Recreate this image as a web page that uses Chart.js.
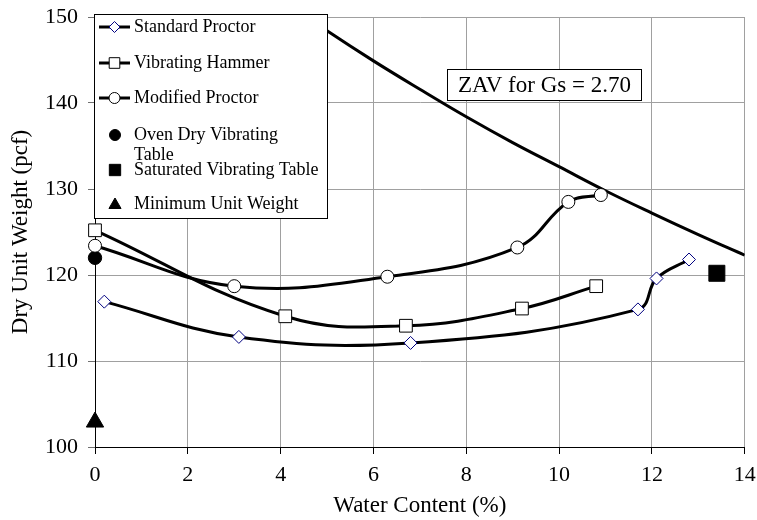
<!DOCTYPE html>
<html>
<head>
<meta charset="utf-8">
<script src="https://cdn.jsdelivr.net/npm/chart.js@4.4.0/dist/chart.umd.min.js"></script>
<style>
html,body{margin:0;padding:0;background:#fff;}
#wrap{width:757px;height:520px;position:relative;}
</style>
</head>
<body>
<div id="wrap"><canvas id="c" width="757" height="520"></canvas></div>
<script>
// ---- data ----
const stdX = [0.2, 3.1, 6.8, 11.7, 12.1, 12.8];
const stdY = [116.9, 112.8, 112.1, 116.0, 119.6, 121.8];
const vibX = [0, 4.1, 6.7, 9.2, 10.8];
const vibY = [125.2, 115.2, 114.1, 116.1, 118.7];
const modX = [0, 3.0, 6.3, 9.1, 10.2, 10.9];
const modY = [123.4, 118.7, 119.8, 123.2, 128.5, 129.3];
const ovenX = [0];
const ovenY = [122.0];
const satX = [13.4];
const satY = [120.2];
const minX = [0];
const minY = [102.9];
const zavX = [4, 5, 6, 7, 8, 9, 10, 11, 12, 13, 14];
const zavY = [152.1, 148.4, 144.9, 141.6, 138.4, 135.4, 132.6, 129.8, 127.2, 124.7, 122.3];
const xTicks = [0, 2, 4, 6, 8, 10, 12, 14];
const yTicks = [100, 110, 120, 130, 140, 150];
const seriesNames = ['Standard Proctor', 'Vibrating Hammer', 'Modified Proctor',
  'Oven Dry Vibrating Table', 'Saturated Vibrating Table', 'Minimum Unit Weight'];
const legendLines = [['Standard Proctor'], ['Vibrating Hammer'], ['Modified Proctor'],
  ['Oven Dry Vibrating', 'Table'], ['Saturated Vibrating Table'], ['Minimum Unit Weight']];
const zavLabel = 'ZAV for Gs = 2.70';
const xTitle = 'Water Content (%)';
const yTitle = 'Dry Unit Weight (pcf)';

const pts = (xs, ys) => xs.map((x, i) => ({x: x, y: ys[i]}));
const FONT = "'Liberation Serif','Times New Roman',serif";

const styles = [
  {pointStyle: 'rectRot', radius: 6.5, bg: '#fff', bc: '#000080', line: true},
  {pointStyle: 'rect', radius: 9, bg: '#fff', bc: '#000', line: true},
  {pointStyle: 'circle', radius: 6.5, bg: '#fff', bc: '#000', line: true},
  {pointStyle: 'circle', radius: 6.7, bg: '#000', bc: '#000', line: false},
  {pointStyle: 'rect', radius: 11.3, bg: '#000', bc: '#000', line: false},
  {pointStyle: 'triangle', radius: 10, bg: '#000', bc: '#000', line: false}
];
const dataPairs = [[stdX, stdY], [vibX, vibY], [modX, modY], [ovenX, ovenY], [satX, satY], [minX, minY]];

const datasets = dataPairs.map((p, i) => ({
  label: seriesNames[i],
  data: pts(p[0], p[1]),
  showLine: styles[i].line,
  borderColor: '#000',
  borderWidth: 3,
  tension: 0.4,
  pointStyle: styles[i].pointStyle,
  pointRadius: styles[i].radius,
  pointBackgroundColor: styles[i].bg,
  pointBorderColor: styles[i].bc,
  pointBorderWidth: 1,
  clip: false,
  order: 1
}));
datasets.push({
  label: 'ZAV',
  data: pts(zavX, zavY),
  showLine: true,
  borderColor: '#000',
  borderWidth: 3,
  tension: 0.4,
  pointRadius: 0,
  order: 2
});

function drawMarker(ctx, st, x, y) {
  ctx.save();
  ctx.fillStyle = st.bg;
  ctx.strokeStyle = st.bc;
  ctx.lineWidth = 1;
  ctx.beginPath();
  const r = st.radius;
  if (st.pointStyle === 'rectRot') {
    ctx.moveTo(x - r, y); ctx.lineTo(x, y - r); ctx.lineTo(x + r, y); ctx.lineTo(x, y + r); ctx.closePath();
  } else if (st.pointStyle === 'rect') {
    const s = r * Math.SQRT1_2;
    ctx.rect(x - s, y - s, 2 * s, 2 * s);
  } else if (st.pointStyle === 'circle') {
    ctx.arc(x, y, r, 0, Math.PI * 2);
  } else if (st.pointStyle === 'triangle') {
    ctx.moveTo(x, y - r);
    ctx.lineTo(x + r * Math.sin(2 * Math.PI / 3), y - r * Math.cos(2 * Math.PI / 3));
    ctx.lineTo(x + r * Math.sin(4 * Math.PI / 3), y - r * Math.cos(4 * Math.PI / 3));
    ctx.closePath();
  }
  ctx.fill();
  ctx.stroke();
  ctx.restore();
}

const overlay = {
  id: 'overlay',
  afterDatasetsDraw(chart) {
    const ctx = chart.ctx;
    ctx.save();
    // legend box
    const bx = 94.5, by = 14.5, bw = 233, bh = 204;
    ctx.fillStyle = '#fff';
    ctx.fillRect(bx, by, bw, bh);
    ctx.strokeStyle = '#000';
    ctx.lineWidth = 1;
    ctx.strokeRect(bx, by, bw, bh);
    const rows = [27, 63, 98, 135, 170, 204];
    const lineHeights = [[27], [63], [98], [135, 155], [170], [204]];
    ctx.font = '18px ' + FONT;
    ctx.textBaseline = 'middle';
    for (let i = 0; i < legendLines.length; i++) {
      const st = styles[i];
      const cy = rows[i];
      if (st.line) {
        ctx.strokeStyle = '#000';
        ctx.lineWidth = 3;
        ctx.beginPath();
        ctx.moveTo(99, cy); ctx.lineTo(130, cy);
        ctx.stroke();
        drawMarker(ctx, Object.assign({}, st, {radius: st.pointStyle === 'rect' ? 7.5 : 5.5}), 114.5, cy);
      } else {
        drawMarker(ctx, Object.assign({}, st, {radius: st.pointStyle === 'rect' ? 8 : (st.pointStyle === 'triangle' ? 7 : 5.5)}), 115, cy + (st.pointStyle === 'triangle' ? 1 : 0));
      }
      ctx.fillStyle = '#000';
      legendLines[i].forEach((t, k) => ctx.fillText(t, 134, lineHeights[i][k]));
    }
    // ZAV label box
    const zx = 447.5, zy = 69.5, zw = 194, zh = 31;
    ctx.fillStyle = '#fff';
    ctx.fillRect(zx, zy, zw, zh);
    ctx.strokeStyle = '#000';
    ctx.lineWidth = 1;
    ctx.strokeRect(zx, zy, zw, zh);
    ctx.fillStyle = '#000';
    ctx.font = '23px ' + FONT;
    ctx.textAlign = 'center';
    ctx.fillText(zavLabel, zx + zw / 2, zy + zh / 2 + 1);
    ctx.restore();
  }
};

new Chart(document.getElementById('c'), {
  type: 'scatter',
  data: {datasets: datasets},
  plugins: [overlay],
  options: {
    responsive: false,
    animation: false,
    devicePixelRatio: 1,
    layout: {padding: {top: 17, right: 12, left: 0, bottom: 0}},
    plugins: {legend: {display: false}, tooltip: {enabled: false}},
    scales: {
      x: {
        type: 'linear', min: 0, max: 14,
        afterBuildTicks: s => { s.ticks = xTicks.map(v => ({value: v})); },
        afterFit: s => { s.height = 73; s.paddingLeft = 0; s.paddingRight = 0; },
        grid: {color: '#a0a0a0', lineWidth: 1, tickLength: 7, tickColor: '#000'},
        border: {color: '#000', width: 1},
        ticks: {color: '#000', font: {family: FONT, size: 22}, padding: 8, maxRotation: 0},
        title: {display: true, text: xTitle, color: '#000', font: {family: FONT, size: 23}, padding: {top: 2, bottom: 0}}
      },
      y: {
        type: 'linear', min: 100, max: 150,
        afterBuildTicks: s => { s.ticks = yTicks.map(v => ({value: v})); },
        afterFit: s => { s.width = 95; s.paddingTop = 0; s.paddingBottom = 0; },
        grid: {color: '#a0a0a0', lineWidth: 1, tickLength: 7, tickColor: '#707070'},
        border: {color: '#000', width: 1},
        ticks: {color: '#000', font: {family: FONT, size: 22}, padding: 10},
        title: {display: true, text: yTitle, color: '#000', font: {family: FONT, size: 23}, padding: {top: 7, bottom: 0}}
      }
    }
  }
});
</script>
</body>
</html>
